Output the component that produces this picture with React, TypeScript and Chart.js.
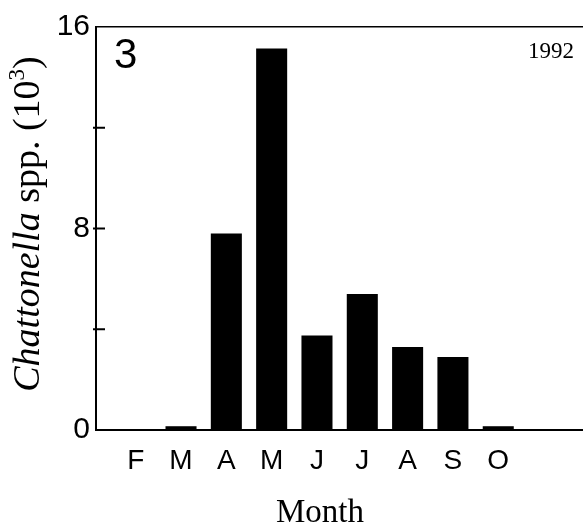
import { useEffect, useRef } from 'react';
import { Chart, registerables } from 'chart.js';

Chart.register(...registerables);

const monthLabels = ['F', 'M', 'A', 'M', 'J', 'J', 'A', 'S', 'O'];
const monthIndex = [0, 1, 2, 3, 4, 5, 6, 7, 8];
const counts = [0, 0.15, 7.8, 15.15, 3.75, 5.4, 3.3, 2.9, 0.15];
const yLabeledTicks = [0, 8, 16];
const yMinorTicks = [4, 8, 12];
const panelNumber = '3';
const yearLabel = '1992';
const xTitle = 'Month';

const X_MIN = -0.876;
const X_MAX = 9.87;

export default function App() {
  const ref = useRef<HTMLCanvasElement | null>(null);

  useEffect(() => {
    const canvas = ref.current;
    if (!canvas) return;

    const textPlugin = {
      id: 'annot',
      afterDraw(chart: any) {
        const ctx = chart.ctx as CanvasRenderingContext2D;
        const area = chart.chartArea;
        const ys = chart.scales.y;
        ctx.save();
        // inward tick marks on y axis
        ctx.strokeStyle = '#000';
        ctx.lineWidth = 2;
        yMinorTicks.forEach((v) => {
          const py = ys.getPixelForValue(v);
          ctx.beginPath();
          ctx.moveTo(area.left - 3, py);
          ctx.lineTo(area.left + 9, py);
          ctx.stroke();
        });
        ctx.fillStyle = '#000';
        // panel number
        ctx.font = '42px "Liberation Sans", Arial, sans-serif';
        ctx.textAlign = 'left';
        ctx.textBaseline = 'alphabetic';
        ctx.fillText(panelNumber, 114, 68);
        // year
        ctx.font = '23px "Liberation Serif", "Times New Roman", serif';
        ctx.textAlign = 'right';
        ctx.fillText(yearLabel, 574, 58);
        // x title
        ctx.font = '33px "Liberation Serif", "Times New Roman", serif';
        ctx.textAlign = 'center';
        ctx.fillText(xTitle, 320, 522);
        // y title (rotated, mixed styles)
        const parts = [
          { t: 'Chattonella', f: 'italic 38px "Liberation Serif", serif', dy: 0 },
          { t: ' spp. (10', f: '38px "Liberation Serif", serif', dy: 0 },
          { t: '3', f: '23px "Liberation Serif", serif', dy: -15 },
          { t: ')', f: '38px "Liberation Serif", serif', dy: 0 },
        ];
        let total = 0;
        parts.forEach((p) => {
          ctx.font = p.f;
          total += ctx.measureText(p.t).width;
        });
        ctx.translate(39, 224);
        ctx.rotate(-Math.PI / 2);
        ctx.textAlign = 'left';
        let x = -total / 2;
        parts.forEach((p) => {
          ctx.font = p.f;
          ctx.fillText(p.t, x, p.dy);
          x += ctx.measureText(p.t).width;
        });
        ctx.restore();
      },
    };

    const chart = new Chart(canvas, {
      type: 'bar',
      data: {
        datasets: [
          {
            data: monthIndex.map((m, i) => ({ x: m, y: counts[i] })),
            backgroundColor: '#000',
            borderWidth: 0,
            barPercentage: 0.685,
            categoryPercentage: 1,
          },
        ],
      },
      options: {
        animation: false,
        responsive: false,
        events: [],
        layout: { padding: { top: 27, left: 0, right: 0, bottom: 0 } },
        plugins: { legend: { display: false }, tooltip: { enabled: false } },
        scales: {
          x: {
            type: 'linear',
            offset: false,
            min: X_MIN,
            max: X_MAX,
            afterFit: (s: any) => {
              s.height = 97;
            },
            ticks: {
              stepSize: 1,
              includeBounds: false,
              autoSkip: false,
              maxRotation: 0,
              color: '#000',
              padding: 14,
              font: { family: '"Liberation Sans", Arial, sans-serif', size: 28 },
              callback: (v: any) => {
                const n = Number(v);
                return Number.isInteger(n) && n >= 0 && n < monthLabels.length ? monthLabels[n] : '';
              },
            },
            grid: { drawOnChartArea: false, drawTicks: false, color: '#000' },
            border: { display: true, color: '#000', width: 2 },
          },
          xTop: {
            type: 'linear',
            position: 'top',
            offset: false,
            min: X_MIN,
            max: X_MAX,
            afterFit: (s: any) => {
              s.height = 0;
            },
            ticks: { display: false },
            grid: { drawOnChartArea: false, drawTicks: false, color: '#000' },
            border: { display: true, color: '#000', width: 1.5 },
          },
          y: {
            min: 0,
            max: 16,
            afterFit: (s: any) => {
              s.width = 96;
            },
            ticks: {
              stepSize: 4,
              color: '#000',
              padding: 6,
              font: { family: '"Liberation Sans", Arial, sans-serif', size: 30 },
              callback: (v: any) => (yLabeledTicks.includes(Number(v)) ? String(v) : ''),
            },
            grid: { drawOnChartArea: false, drawTicks: false, color: '#000' },
            border: { display: true, color: '#000', width: 2 },
          },
        },
      },
      plugins: [textPlugin],
    });

    return () => chart.destroy();
  }, []);

  return (
    <div style={{ position: 'absolute', left: 0, top: 0, width: 583, height: 527, background: '#fff' }}>
      <canvas ref={ref} width={583} height={527} style={{ display: 'block' }} />
    </div>
  );
}
